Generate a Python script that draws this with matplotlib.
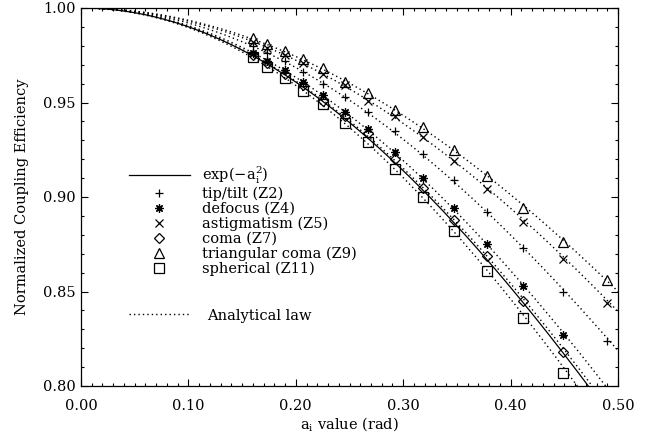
import numpy as np
import matplotlib
matplotlib.use('Agg')
import matplotlib.pyplot as plt
from matplotlib.lines import Line2D
from matplotlib.ticker import MultipleLocator, FormatStrFormatter

# ---- data ----
a_values = [0.160, 0.173, 0.190, 0.207, 0.225, 0.246, 0.267, 0.292, 0.318,
            0.347, 0.378, 0.412, 0.449, 0.490]
tip_tilt = [0.980, 0.976, 0.972, 0.966, 0.960, 0.953, 0.945, 0.935, 0.923,
            0.909, 0.892, 0.873, 0.850, 0.824]
defocus = [0.976, 0.972, 0.967, 0.961, 0.954, 0.945, 0.936, 0.924, 0.910,
           0.894, 0.875, 0.853, 0.827, 0.799]
astigmatism = [0.982, 0.979, 0.975, 0.971, 0.965, 0.959, 0.951, 0.943, 0.932,
               0.919, 0.904, 0.887, 0.867, 0.844]
coma = [0.975, 0.971, 0.965, 0.959, 0.951, 0.943, 0.934, 0.920, 0.905,
        0.888, 0.869, 0.845, 0.818, 0.789]
triangular_coma = [0.984, 0.981, 0.977, 0.973, 0.968, 0.961, 0.955, 0.946, 0.937,
                   0.925, 0.911, 0.894, 0.876, 0.856]
spherical = [0.974, 0.969, 0.963, 0.956, 0.949, 0.939, 0.929, 0.915, 0.900,
             0.882, 0.861, 0.836, 0.807, 0.778]

series_labels = ['tip/tilt (Z2)', 'defocus (Z4)', 'astigmatism (Z5)', 'coma (Z7)',
                 'triangular coma (Z9)', 'spherical (Z11)']
# analytical law coefficients: CE = exp(-k a^2)
analytical_k = [0.80, 0.935, 0.70, 0.985, 0.65, 1.045]

x_ticks = [0.0, 0.1, 0.2, 0.3, 0.4, 0.5]
y_ticks = [0.80, 0.85, 0.90, 0.95, 1.00]

# ---- style ----
plt.rcParams['font.family'] = ['DejaVu Serif']
plt.rcParams['mathtext.fontset'] = 'dejavuserif'
FS = 10.5

fig = plt.figure(figsize=(6.56, 4.36), dpi=100)
ax = fig.add_axes([81/656, 1-386/436, 537/656, 378/436])

series = [tip_tilt, defocus, astigmatism, coma, triangular_coma, spherical]
markers = ['+', (8, 2, 0), 'x', 'D', '^', 's']
msizes = [6, 6, 5.5, 5, 6.5, 6.5]
ymin, ymax = 0.80, 1.00

a_fine = np.linspace(0, 0.5, 400)
ax.plot(a_fine, np.exp(-a_fine**2), color='black', lw=0.9)
for k in analytical_k:
    ax.plot(a_fine, np.exp(-k * a_fine**2), color='black', lw=1.0,
            linestyle=(0, (1, 2.2)))

handles = [Line2D([], [], color='black', lw=0.9)]
for vals, m, ms in zip(series, markers, msizes):
    v = np.ma.masked_less(np.array(vals), ymin)
    ax.plot(a_values, v, linestyle='none', marker=m, markersize=ms,
            markerfacecolor='none', markeredgecolor='black', markeredgewidth=0.9)
    handles.append(Line2D([], [], linestyle='none', marker=m, markersize=ms,
                          markerfacecolor='none', markeredgecolor='black',
                          markeredgewidth=0.9))

labels = [r'exp($-$a$_\mathregular{i}^\mathregular{2}$)'] + series_labels
leg1 = ax.legend(handles, labels, loc='upper left', bbox_to_anchor=(0.089, 0.585),
                 frameon=False, fontsize=FS, handlelength=4.2, handletextpad=0.85,
                 labelspacing=0.05, borderpad=0, borderaxespad=0)
ax.add_artist(leg1)
leg2 = ax.legend([Line2D([], [], color='black', lw=1.0, linestyle=(0, (1, 2.2)))],
                 ['Analytical law'], loc='upper left', bbox_to_anchor=(0.089, 0.205),
                 frameon=False, fontsize=FS, handlelength=4.2, handletextpad=1.2,
                 borderpad=0, borderaxespad=0)

ax.set_xlim(0, 0.5)
ax.set_ylim(ymin, ymax)
ax.set_xticks(x_ticks)
ax.set_yticks(y_ticks)
ax.xaxis.set_major_formatter(FormatStrFormatter('%.2f'))
ax.yaxis.set_major_formatter(FormatStrFormatter('%.2f'))
ax.xaxis.set_minor_locator(MultipleLocator(0.01))
ax.yaxis.set_minor_locator(MultipleLocator(0.01))
ax.tick_params(which='both', direction='in', top=True, right=True,
               labelsize=FS, width=0.8)
ax.tick_params(axis='x', which='major', pad=9)
ax.tick_params(axis='y', which='major', pad=4)
ax.tick_params(which='major', length=5)
ax.tick_params(which='minor', length=2.5)
for s in ax.spines.values():
    s.set_linewidth(0.9)

ax.set_xlabel(r'a$_\mathregular{i}$ value (rad)', fontsize=FS, labelpad=2)
ax.set_ylabel('Normalized Coupling Efficiency', fontsize=FS, labelpad=10)

fig.savefig('out.png', dpi=100)
